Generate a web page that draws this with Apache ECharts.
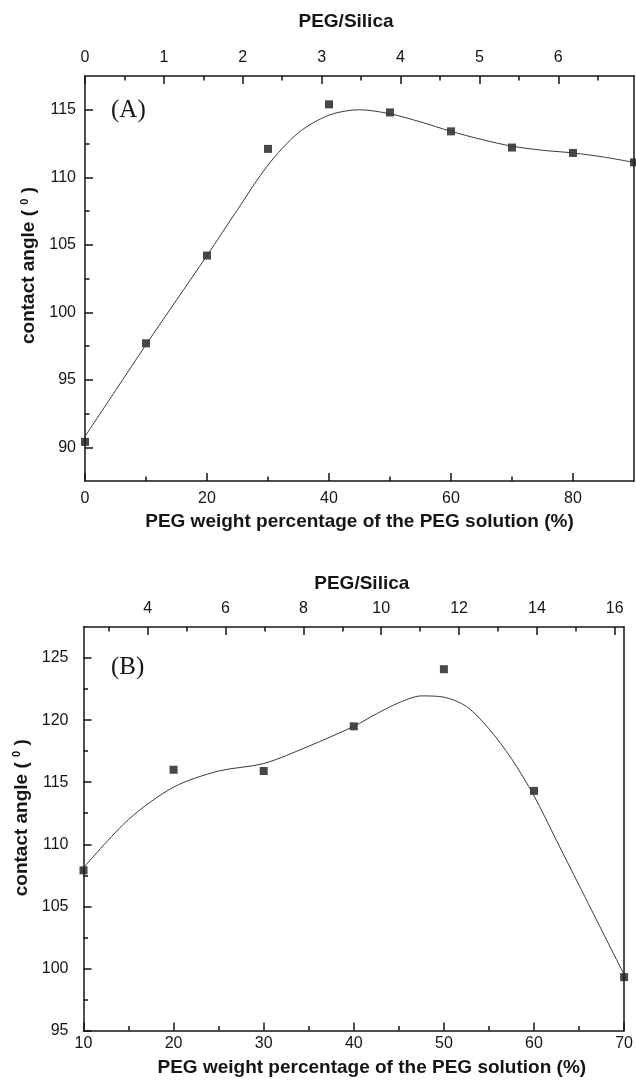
<!DOCTYPE html>
<html>
<head>
    <meta charset="UTF-8">
    <title>contact angle vs PEG</title>
    <script src="https://cdn.jsdelivr.net/npm/echarts@6.0.0/dist/echarts.min.js"></script>
    <style type="text/css">
        *{padding:0;margin:0}
        body{background:#fff}
    </style>
</head>
<body>
<div id="chart" style="width:636px;height:1085px;"></div>
<script type="text/javascript">
    // panel A : measured points
    var xA = [0, 10, 20, 30, 40, 50, 60, 70, 80, 90];
    var yA = [90.4, 97.7, 104.2, 112.1, 115.4, 114.8, 113.4, 112.2, 111.8, 111.1];
    // panel A : fitted curve
    var curveAX = [0, 5, 10, 15, 20, 25, 30, 35, 40, 45, 50, 55, 60, 65, 70, 75, 80, 85, 90];
    var curveAY = [90.8, 94.2, 97.6, 100.9, 104.2, 107.6, 110.9, 113.3, 114.6, 115.0, 114.7, 114.1, 113.4, 112.8, 112.3, 112.0, 111.8, 111.5, 111.1];

    // panel B
    var xB = [10, 20, 30, 40, 50, 60, 70];
    var yB = [107.9, 116.0, 115.9, 119.5, 124.1, 114.3, 99.3];
    var curveBX = [10, 15, 20, 25, 30, 35, 40, 42.5, 45, 47.5, 50, 52.5, 55, 57.5, 60, 62.5, 65, 70];
    var curveBY = [108.1, 112.0, 114.6, 115.9, 116.5, 117.9, 119.5, 120.5, 121.4, 121.95, 121.85, 121.1, 119.3, 116.9, 113.9, 110.3, 106.7, 99.5];

    // tick values
    var ticksAx = [0, 20, 40, 60, 80];
    var minorAx = [10, 30, 50, 70];
    var ticksAtop = [0, 1, 2, 3, 4, 5, 6];
    var minorAtop = [0.5, 1.5, 2.5, 3.5, 4.5, 5.5, 6.5];
    var ticksAy = [90, 95, 100, 105, 110, 115];
    var minorAy = [92.5, 97.5, 102.5, 107.5, 112.5];
    var ticksBx = [10, 20, 30, 40, 50, 60, 70];
    var minorBx = [15, 25, 35, 45, 55, 65];
    var ticksBtop = [4, 6, 8, 10, 12, 14, 16];
    var minorBtop = [3, 5, 7, 9, 11, 13, 15];
    var ticksBy = [95, 100, 105, 110, 115, 120, 125];
    var minorBy = [97.5, 102.5, 107.5, 112.5, 117.5, 122.5];

    var ink = '#151515';
    var font = 'Liberation Sans';

    function pairs(xs, ys) {
        return xs.map(function (x, i) { return [x, ys[i]]; });
    }

    // one axis with line, major ticks, labels and name + a bare one for the minor ticks
    function axisPair(grid, pos, min, max, major, minor, name, nameGap, margin, pad) {
        var main = {
            type: 'value', gridIndex: grid, position: pos, min: min, max: max,
            name: name, nameLocation: 'middle', nameGap: nameGap,
            nameTextStyle: {fontFamily: font, fontWeight: 'bold', fontSize: 19, color: ink, padding: pad,
                rich: {s: {fontFamily: font, fontWeight: 'bold', fontSize: 11, color: ink, verticalAlign: 'top'}}},
            axisLine: {show: true, onZero: false, lineStyle: {color: ink, width: 1.5}},
            axisTick: {show: true, inside: true, length: 8, customValues: major, lineStyle: {color: ink, width: 1.5}},
            axisLabel: {customValues: major, margin: margin, fontFamily: font, fontSize: 16, color: ink},
            splitLine: {show: false}
        };
        var sub = {
            type: 'value', gridIndex: grid, position: pos, min: min, max: max,
            axisLine: {show: false, onZero: false},
            axisTick: {show: true, inside: true, length: 4.5, customValues: minor, lineStyle: {color: ink, width: 1.5}},
            axisLabel: {show: false},
            splitLine: {show: false}
        };
        return [main, sub];
    }

    function frameSide(grid, min, max) {
        return {
            type: 'value', gridIndex: grid, position: 'right', min: min, max: max,
            axisLine: {show: true, onZero: false, lineStyle: {color: ink, width: 1.5}},
            axisTick: {show: false}, axisLabel: {show: false}, splitLine: {show: false}
        };
    }

    var yName = 'contact angle ( {s|0} )';

    var xAxes = [].concat(
        axisPair(0, 'bottom', 0, 90, ticksAx, minorAx, 'PEG weight percentage of the PEG solution (%)', 31, 10, [0, 0, 0, 0]),
        axisPair(0, 'top', 0, 6.96, ticksAtop, minorAtop, 'PEG/Silica', 45, 10, [0, 27, 0, 0]),
        axisPair(1, 'bottom', 10, 70, ticksBx, minorBx, 'PEG weight percentage of the PEG solution (%)', 28, 5, [0, 0, 0, 36]),
        axisPair(1, 'top', 2.35, 16.24, ticksBtop, minorBtop, 'PEG/Silica', 34, 10, [0, 0, 0, 16])
    );
    var yAxes = [].concat(
        axisPair(0, 'left', 87.5, 117.5, ticksAy, minorAy, yName, 47, 9, [0, 0, 0, 26]),
        [frameSide(0, 87.5, 117.5)],
        axisPair(1, 'left', 95, 127.5, ticksBy, minorBy, yName, 45, 15, [0, 0, 0, 22]),
        [frameSide(1, 95, 127.5)]
    );

    var option = {
        animation: false,
        backgroundColor: '#fff',
        title: [
            {text: '(A)', left: 111, top: 98, padding: 0,
                textStyle: {fontFamily: 'Liberation Serif', fontWeight: 'normal', fontSize: 25, color: ink}},
            {text: '(B)', left: 111, top: 655, padding: 0,
                textStyle: {fontFamily: 'Liberation Serif', fontWeight: 'normal', fontSize: 25, color: ink}}
        ],
        grid: [
            {left: 85, top: 76, width: 549, height: 405},
            {left: 83.5, top: 627, width: 543.5, height: 403.5}
        ],
        xAxis: xAxes,
        yAxis: yAxes,
        series: [
            {type: 'line', xAxisIndex: 0, yAxisIndex: 0, data: pairs(curveAX, curveAY), smooth: 0.3,
                showSymbol: false, silent: true, lineStyle: {color: '#3a3a3a', width: 1}},
            {type: 'scatter', xAxisIndex: 0, yAxisIndex: 0, data: pairs(xA, yA), symbol: 'rect', symbolSize: 8,
                itemStyle: {color: '#1a1a1a'}},
            {type: 'line', xAxisIndex: 4, yAxisIndex: 3, data: pairs(curveBX, curveBY), smooth: 0.3,
                showSymbol: false, silent: true, lineStyle: {color: '#3a3a3a', width: 1}},
            {type: 'scatter', xAxisIndex: 4, yAxisIndex: 3, data: pairs(xB, yB), symbol: 'rect', symbolSize: 8,
                itemStyle: {color: '#1a1a1a'}}
        ]
    };

    var chart = echarts.init(document.getElementById('chart'));
    chart.setOption(option);
</script>
</body>
</html>
